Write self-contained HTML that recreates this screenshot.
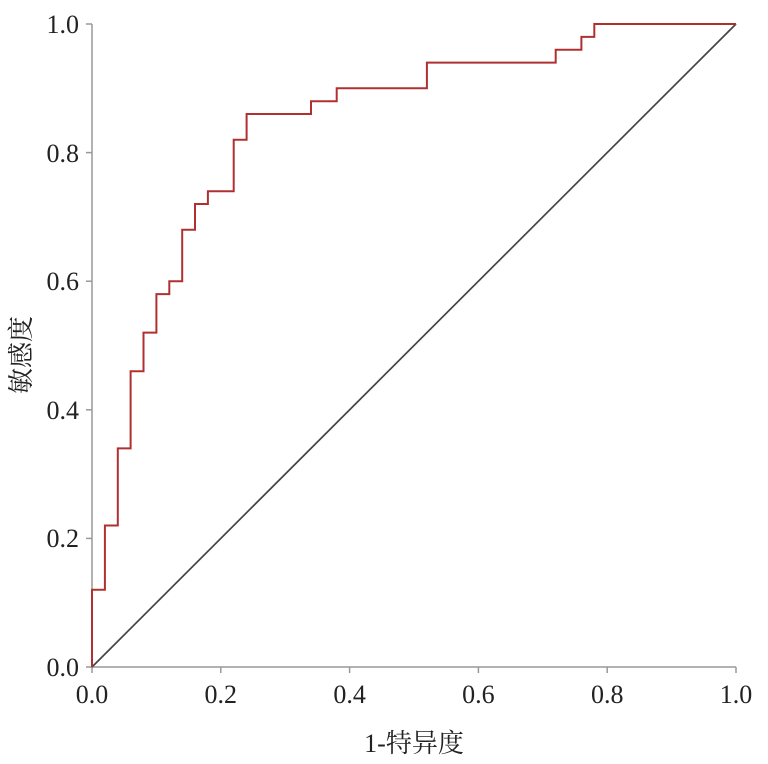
<!DOCTYPE html>
<html><head><meta charset="utf-8"><style>
body{margin:0;background:#fff}
svg text{font-family:"Liberation Serif","Noto Serif CJK SC",serif;font-size:26px;fill:#222}
</style></head><body>
<svg width="768" height="759" viewBox="0 0 768 759" xmlns="http://www.w3.org/2000/svg">
<g stroke="#999" stroke-width="1.5" fill="none">
<line x1="92" y1="24" x2="92" y2="667"/>
<line x1="92" y1="667" x2="736" y2="667"/>
<line x1="86" y1="24" x2="92" y2="24"/><line x1="86" y1="152.6" x2="92" y2="152.6"/><line x1="86" y1="281.2" x2="92" y2="281.2"/><line x1="86" y1="409.8" x2="92" y2="409.8"/><line x1="86" y1="538.4" x2="92" y2="538.4"/><line x1="86" y1="667" x2="92" y2="667"/>
<line x1="92" y1="667" x2="92" y2="673"/><line x1="220.8" y1="667" x2="220.8" y2="673"/><line x1="349.6" y1="667" x2="349.6" y2="673"/><line x1="478.4" y1="667" x2="478.4" y2="673"/><line x1="607.2" y1="667" x2="607.2" y2="673"/><line x1="736" y1="667" x2="736" y2="673"/>
</g>
<line x1="92" y1="667" x2="736" y2="24" stroke="#444" stroke-width="1.7"/>
<polyline fill="none" stroke="#b03030" stroke-width="2" points="92,667 92,589.8 104.9,589.8 104.9,525.5 117.8,525.5 117.8,448.4 130.6,448.4 130.6,371.2 143.5,371.2 143.5,332.6 156.4,332.6 156.4,294.1 169.3,294.1 169.3,281.2 182.2,281.2 182.2,229.8 195,229.8 195,204 207.9,204 207.9,191.2 233.7,191.2 233.7,139.7 246.6,139.7 246.6,114 311,114 311,101.2 336.7,101.2 336.7,88.3 426.9,88.3 426.9,62.6 555.7,62.6 555.7,49.7 581.4,49.7 581.4,36.9 594.3,36.9 594.3,24 736,24"/>
<g text-anchor="end">
<text x="79" y="33">1.0</text><text x="79" y="162">0.8</text><text x="79" y="290">0.6</text><text x="79" y="419">0.4</text><text x="79" y="547">0.2</text><text x="79" y="676">0.0</text>
</g>
<g text-anchor="middle">
<text x="92" y="703">0.0</text><text x="220.8" y="703">0.2</text><text x="349.6" y="703">0.4</text><text x="478.4" y="703">0.6</text><text x="607.2" y="703">0.8</text><text x="736" y="703">1.0</text>
<text x="414" y="752">1-特异度</text>
<text transform="translate(30,355) rotate(-90)">敏感度</text>
</g>
</svg>
</body></html>
